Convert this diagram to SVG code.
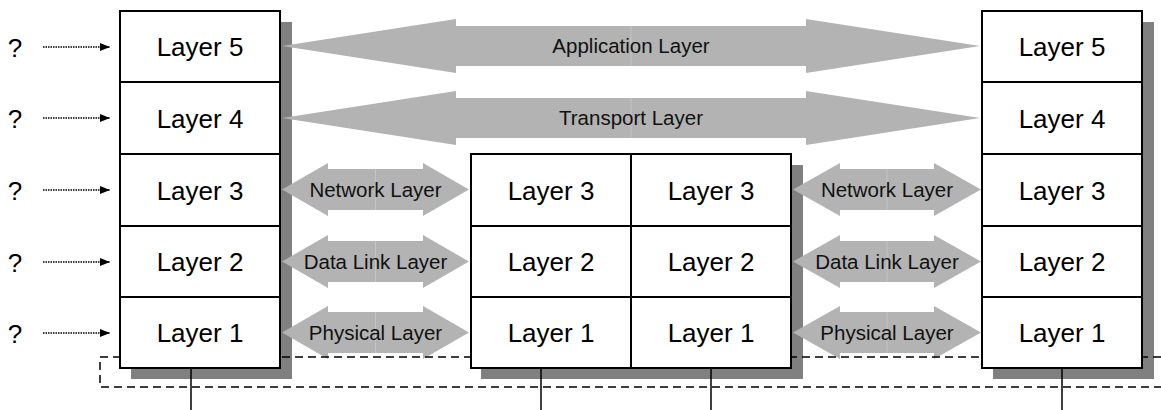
<svg xmlns="http://www.w3.org/2000/svg" width="1161" height="410" viewBox="0 0 1161 410">
<defs>
<style>
.box{fill:#fff;stroke:#000;stroke-width:2}
.shadow{fill:#808080}
.lbl{font-family:"Liberation Sans",Arial,sans-serif;font-size:26px;fill:#000;text-anchor:middle}
.alb{font-family:"Liberation Sans",Arial,sans-serif;font-size:20.5px;fill:#111;text-anchor:middle}
.q{font-family:"Liberation Sans",Arial,sans-serif;font-size:26px;fill:#000;text-anchor:middle}
.big{fill:#b3b3b3}
.seam{stroke:#c4c4c4;stroke-width:1}
.dot{stroke:#000;stroke-width:1.4;stroke-dasharray:1.5 1;fill:none}
.dash{stroke:#000;stroke-width:1.5;stroke-dasharray:8 5;fill:none}
.wire{stroke:#000;stroke-width:1.5}
</style>
<marker id="tri" viewBox="0 0 10 8" refX="10" refY="4" markerWidth="10" markerHeight="8" markerUnits="userSpaceOnUse" orient="auto">
<path d="M0,0 L10,4 L0,8 Z" fill="#000"/>
</marker>
</defs>

<g id="shadows">
<rect class="shadow" x="131" y="22" width="161" height="357"/>
<rect class="shadow" x="481" y="165" width="322" height="214"/>
<rect class="shadow" x="993" y="22" width="161" height="357"/>
</g>

<g id="connectors">
<g id="application">
<path class="big" d="M282,46 L456,19 L456,26 L806,26 L806,19 L980,46 L806,73 L806,66 L456,66 L456,73 Z"/>
<line class="seam" x1="631" y1="26" x2="631" y2="66"/>
<text class="alb" x="631" y="53">Application Layer</text>
</g>
<g id="transport">
<path class="big" d="M282,118 L456,91 L456,98 L806,98 L806,91 L980,118 L806,145 L806,138 L456,138 L456,145 Z"/>
<line class="seam" x1="631" y1="98" x2="631" y2="138"/>
<text class="alb" x="631" y="125">Transport Layer</text>
</g>
<g id="net-left">
<path class="big" d="M282,189.5 L328,163 L328,169 L423,169 L423,163 L469,189.5 L423,216 L423,210 L328,210 L328,216 Z"/>
<line class="seam" x1="375.5" y1="169" x2="375.5" y2="210"/>
<text class="alb" x="375.5" y="196.5">Network Layer</text>
</g>
<g id="dl-left">
<path class="big" d="M282,261.5 L328,235 L328,241 L423,241 L423,235 L469,261.5 L423,288 L423,282 L328,282 L328,288 Z"/>
<line class="seam" x1="375.5" y1="241" x2="375.5" y2="282"/>
<text class="alb" x="375.5" y="268.5">Data Link Layer</text>
</g>
<g id="ph-left">
<path class="big" d="M282,332.5 L328,306 L328,312 L423,312 L423,306 L469,332.5 L423,359 L423,353 L328,353 L328,359 Z"/>
<line class="seam" x1="375.5" y1="312" x2="375.5" y2="353"/>
<text class="alb" x="375.5" y="339.5">Physical Layer</text>
</g>
<g id="net-right">
<path class="big" d="M793,189.5 L840,163 L840,169 L934,169 L934,163 L981,189.5 L934,216 L934,210 L840,210 L840,216 Z"/>
<line class="seam" x1="887" y1="169" x2="887" y2="210"/>
<text class="alb" x="887" y="196.5">Network Layer</text>
</g>
<g id="dl-right">
<path class="big" d="M793,261.5 L840,235 L840,241 L934,241 L934,235 L981,261.5 L934,288 L934,282 L840,282 L840,288 Z"/>
<line class="seam" x1="887" y1="241" x2="887" y2="282"/>
<text class="alb" x="887" y="268.5">Data Link Layer</text>
</g>
<g id="ph-right">
<path class="big" d="M793,332.5 L840,306 L840,312 L934,312 L934,306 L981,332.5 L934,359 L934,353 L840,353 L840,359 Z"/>
<line class="seam" x1="887" y1="312" x2="887" y2="353"/>
<text class="alb" x="887" y="339.5">Physical Layer</text>
</g>
<g id="inputs">
<line class="dot" x1="43" y1="47" x2="110" y2="47" marker-end="url(#tri)"/>
<line class="dot" x1="43" y1="118" x2="110" y2="118" marker-end="url(#tri)"/>
<line class="dot" x1="43" y1="190" x2="110" y2="190" marker-end="url(#tri)"/>
<line class="dot" x1="43" y1="262" x2="110" y2="262" marker-end="url(#tri)"/>
<line class="dot" x1="43" y1="333" x2="110" y2="333" marker-end="url(#tri)"/>
</g>
<path id="medium" class="dash" d="M1161,357 H100 V387 H1161"/>
</g>

<g id="questions">
<text class="q" x="15" y="57">?</text>
<text class="q" x="15" y="128">?</text>
<text class="q" x="15" y="200">?</text>
<text class="q" x="15" y="272">?</text>
<text class="q" x="15" y="343">?</text>
</g>

<g id="host-a">
<rect class="box" x="120" y="11" width="160" height="71"/>
<rect class="box" x="120" y="82" width="160" height="72"/>
<rect class="box" x="120" y="154" width="160" height="72"/>
<rect class="box" x="120" y="226" width="160" height="71"/>
<rect class="box" x="120" y="297" width="160" height="71"/>
<text class="lbl" x="200" y="56">Layer 5</text>
<text class="lbl" x="200" y="127.5">Layer 4</text>
<text class="lbl" x="200" y="199.5">Layer 3</text>
<text class="lbl" x="200" y="271">Layer 2</text>
<text class="lbl" x="200" y="342">Layer 1</text>
</g>

<g id="router-a">
<rect class="box" x="471" y="154" width="160" height="72"/>
<rect class="box" x="471" y="226" width="160" height="71"/>
<rect class="box" x="471" y="297" width="160" height="71"/>
<text class="lbl" x="551" y="199.5">Layer 3</text>
<text class="lbl" x="551" y="271">Layer 2</text>
<text class="lbl" x="551" y="342">Layer 1</text>
</g>

<g id="router-b">
<rect class="box" x="631" y="154" width="160" height="72"/>
<rect class="box" x="631" y="226" width="160" height="71"/>
<rect class="box" x="631" y="297" width="160" height="71"/>
<text class="lbl" x="711" y="199.5">Layer 3</text>
<text class="lbl" x="711" y="271">Layer 2</text>
<text class="lbl" x="711" y="342">Layer 1</text>
</g>

<g id="host-b">
<rect class="box" x="982" y="11" width="160" height="71"/>
<rect class="box" x="982" y="82" width="160" height="72"/>
<rect class="box" x="982" y="154" width="160" height="72"/>
<rect class="box" x="982" y="226" width="160" height="71"/>
<rect class="box" x="982" y="297" width="160" height="71"/>
<text class="lbl" x="1062" y="56">Layer 5</text>
<text class="lbl" x="1062" y="127.5">Layer 4</text>
<text class="lbl" x="1062" y="199.5">Layer 3</text>
<text class="lbl" x="1062" y="271">Layer 2</text>
<text class="lbl" x="1062" y="342">Layer 1</text>
</g>

<g id="links">
<line class="wire" x1="191" y1="369" x2="191" y2="410"/>
<line class="wire" x1="541" y1="369" x2="541" y2="410"/>
<line class="wire" x1="711" y1="369" x2="711" y2="410"/>
<line class="wire" x1="1062" y1="369" x2="1062" y2="410"/>
</g>
</svg>
